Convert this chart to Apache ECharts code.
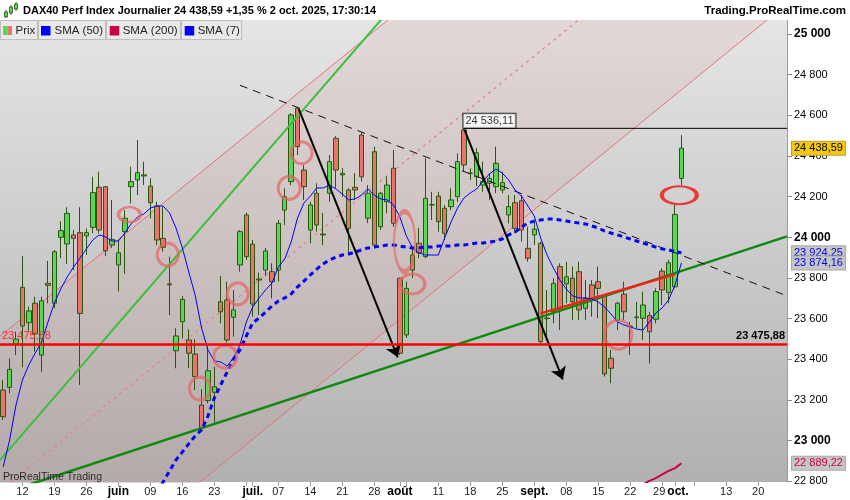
<!DOCTYPE html>
<html><head><meta charset="utf-8">
<script src="https://cdn.jsdelivr.net/npm/echarts@6/dist/echarts.min.js"></script>
<style>html,body{margin:0;padding:0;background:#fff}#c{width:850px;height:500px}</style>
</head><body><div id="c"></div>
<script>
// ---- categories (trading days) ----
const dates = ['07/05','08/05','09/05','12/05','13/05','14/05','15/05','16/05','19/05','20/05','21/05','22/05','23/05','26/05','27/05','28/05','29/05','30/05',
'02/06','03/06','04/06','05/06','06/06','09/06','10/06','11/06','12/06','13/06','16/06','17/06','18/06','19/06','20/06','23/06','24/06','25/06','26/06','27/06','30/06',
'01/07','02/07','03/07','04/07','07/07','08/07','09/07','10/07','11/07','14/07','15/07','16/07','17/07','18/07','21/07','22/07','23/07','24/07','25/07','28/07','29/07','30/07','31/07',
'01/08','04/08','05/08','06/08','07/08','08/08','11/08','12/08','13/08','14/08','15/08','18/08','19/08','20/08','21/08','22/08','25/08','26/08','27/08','28/08','29/08',
'01/09','02/09','03/09','04/09','05/09','08/09','09/09','10/09','11/09','12/09','15/09','16/09','17/09','18/09','19/09','22/09','23/09','24/09','25/09','26/09','29/09','30/09',
'01/10','02/10','03/10','06/10','07/10','08/10','09/10','10/10','13/10','14/10','15/10','16/10','17/10','20/10','21/10','22/10','23/10','24/10'];

// x tick labels
const xTickLabels = {'12/05':'12','19/05':'19','26/05':'26','02/06':'juin','09/06':'09','16/06':'16','23/06':'23',
'01/07':'juil.','07/07':'07','14/07':'14','21/07':'21','28/07':'28','01/08':'août','11/08':'11','18/08':'18','25/08':'25',
'01/09':'sept.','08/09':'08','15/09':'15','22/09':'22','29/09':'29','01/10':'oct.','13/10':'13','20/10':'20'};
const xTickOnly = ['30/06','04/08','06/10'];
const yTicks = [22800,23000,23200,23400,23600,23800,24000,24200,24400,24600,24800,25000];

// ---- price data ----
const opens = [23249,23262,23475,23754,23580,23676,23421,23774,23676,24000,
23967,24012,24023,24007,24049,24246,24249,23962,23864,24028,
24249,24282,24302,24252,24154,23995,23771,23442,23585,23495,
23426,23175,23197,23238,23683,23692,23607,23864,24110,23967,
23795,23839,23831,23839,24134,24274,24635,24331,24036,24217,
24012,24217,24487,24307,24233,24246,24503,24094,24421,24052,
24175,24340,23799,23520,23913,23971,23905,24159,24203,24143,
24151,24200,24528,24315,24298,24257,24266,24249,24233,24110,
24170,24180,23946,24012,23971,23603,23634,23856,23771,23799,
23831,23651,23766,23782,23711,23405,23593,23721,23561,23605,
23602,23615,23597,23834,23728,23757,24290];
const closes = [23118,23351,23499,23564,23638,23525,23688,23764,23929,24033,
24118,23995,23626,24023,24220,24036,23934,23990,23924,24094,
24274,24318,24307,24170,23987,23951,23766,23515,23695,23430,
23315,23061,23344,23265,23634,23495,23643,24028,23905,23672,
23790,23933,23782,24069,24200,24602,24446,24249,24159,24061,
24016,24372,24331,24315,24044,24233,24298,24217,23962,24217,
24257,24069,23430,23749,23839,23924,24192,24161,24077,24020,
24184,24372,24356,24316,24416,24274,24290,24364,24269,24151,
24044,24036,23897,24040,23487,23600,23774,23643,23806,23683,
23643,23700,23700,23749,23328,23356,23676,23634,23564,23608,
23667,23536,23733,23741,23875,24113,24438.59];
const lows = [23102,23233,23421,23361,23536,23438,23339,23676,23651,23897,
23869,23839,23274,23913,24020,24020,23908,23948,23733,23820,
24167,24208,24257,24094,23962,23929,23618,23356,23503,23356,
23249,23052,23184,23077,23577,23482,23511,23831,23889,23610,
23618,23810,23700,23782,24061,24257,24405,24184,23971,24028,
23962,24175,24243,24200,23921,24184,24274,24070,23946,24036,
24118,24052,23421,23505,23800,23898,23897,24085,24028,23987,
24134,24175,24323,24282,24252,24224,24184,24217,24217,24069,
24021,23979,23880,23962,23479,23495,23577,23544,23676,23593,
23593,23593,23610,23602,23315,23282,23544,23593,23421,23553,
23495,23380,23577,23667,23676,23749,24257];
const highs = [23298,23405,23536,23908,23659,23708,23708,23884,23938,24080,
24148,24036,24148,24044,24298,24323,24252,24184,23987,24134,
24347,24479,24372,24290,24175,24151,23905,23553,23711,23548,
23499,23253,23462,23364,23810,23782,23741,24036,24121,23987,
23826,23948,23872,24085,24241,24611,24639,24356,24175,24266,
24120,24405,24498,24341,24241,24316,24515,24257,24446,24224,
24298,24430,23800,23782,23948,24046,24389,24224,24224,24159,
24241,24413,24536.11,24340,24439,24372,24316,24446,24323,24208,
24208,24208,24052,24077,23979,23741,23799,23872,23880,23856,
23880,23790,23790,23856,23716,23446,23683,23782,23585,23683,
23733,23634,23749,23848,23889,24159,24503];

// ---- moving averages ----
const sma7 = [22871,23003,23175,23298,23372,23431,23485,23584,23677,23746,
23805,23854,23898,23943,23987,24012,24002,23982,23982,24021,
24066,24100,24115,24144,24154,24154,24120,24046,23948,23830,
23716,23554,23446,23392,23387,23367,23407,23470,23584,23657,
23702,23741,23775,23854,23893,23977,24095,24169,24203,24243,
24243,24257,24238,24213,24184,24189,24208,24238,24208,24189,
24184,24159,24100,24007,23948,23923,23913,23913,23913,23997,
24075,24144,24193,24218,24238,24277,24312,24336,24316,24282,
24233,24203,24154,24105,23997,23913,23849,23790,23746,23712,
23702,23702,23697,23682,23657,23623,23584,23569,23559,23549,
23544,23584,23628,23653,23692,23766,23874.16];
const sma50 = Array(24).fill(null).concat([22748,22797,22851,22905,22944,22984,
23023,23053,23121,23210,23274,23338,23402,23446,23515,23579,
23603,23633,23662,23687,23702,23721,23756,23785,23815,23844,
23869,23889,23903,23913,23918,23928,23938,23948,23952,23957,
23962,23962,23957,23952,23948,23948,23952,23952,23957,23957,
23957,23962,23962,23967,23972,23972,23977,23982,23992,24012,
24026,24051,24070,24080,24085,24090,24090,24085,24080,24075,
24070,24066,24056,24046,24031,24021,24012,24002,23992,23982,
23972,23962,23952,23943,23938,23930,23924.25]);
const sma200 = Array(100).fill(null).concat([22785,22802,22816,22834,22851,22865,22889.22]);

// ---- drawn levels / annotations (index, value) ----
const supportLevel = 23475.88;
const highLevel = [72, 24536.11];
const channelUpper = [[-0.5, 23514], [122.5, 26669]];
const channelLower = [[-0.5, 21994], [122.5, 25149]];
const channelMid = [[-0.5, 22750], [122.5, 25905]];
const steepTrend = [[-0.5, 22905], [65, 25286]];
const supportTrend = [[-0.5, 22737], [122.5, 24005]];
const redTrend = [[84, 23626], [105, 23818]];
const downTrend = [[37, 24748], [122.5, 23712]];
const arrows = [[46.2, 24630, 61.66, 23410], [72.1, 24530, 87.45, 23301]];
const ellipseCenters = [[19.73,24112],[25.72,23915],[30.75,23256],[34.7,23413],[36.66,23722],[44.69,24243],[46.64,24416],[62.73,23979],[63.95,23771],[96.14,23521]];
const ellipseSizes = [[22,15],[21,23],[21,23],[23,23],[21,22],[22,23],[21,22],[21,60],[25,20],[27,29]];
const hotEllipse = [[105.67, 24207]];

// ---- helpers ----
function fmtInt(v){ return String(Math.round(v)).replace(/\B(?=(\d{3})+(?!\d))/g,' '); }
function fmtDec(v){ const p = v.toFixed(2).split('.'); return p[0].replace(/\B(?=(\d{3})+(?!\d))/g,' ') + ',' + p[1]; }
const FONT = '"Liberation Sans", Arial, sans-serif';
const last = a => a[a.length-1];
const xMax = dates.length - 0.5;
const GRID_TOP = 20, GRID_BOTTOM_PX = 482;
const bgStops = [{offset:0,color:'#e5e5e5'},{offset:1,color:'#b1b1b1'}];

const candleData = opens.map((o,i)=>[o, closes[i], lows[i], highs[i]]);

const chart = echarts.init(document.getElementById('c'), null, {renderer:'canvas'});

function tagLabel(text, bg, color, border){
  return {show:true, position:'end', distance:5, formatter:text, backgroundColor:bg, color:color,
    borderColor:border, borderWidth:1, padding:[1,2,0,2], fontSize:11, lineHeight:12, fontFamily:FONT};
}
const hiddenLine = {color:'rgba(0,0,0,0)', width:1, type:'solid'};

const option = {
  animation:false,
  backgroundColor:'#ffffff',
  textStyle:{fontFamily:FONT},
  grid:{left:0, right:63, top:GRID_TOP, bottom:500-GRID_BOTTOM_PX, show:true, borderWidth:0,
    backgroundColor:new echarts.graphic.LinearGradient(0,0,0,1,bgStops)},
  xAxis:[{
    type:'category', data:dates, boundaryGap:true,
    axisLine:{show:false},
    axisTick:{show:true, alignWithLabel:true, length:4, lineStyle:{color:'#9a9a9a'},
      interval:(i,v)=> (v in xTickLabels) || xTickOnly.indexOf(v) >= 0},
    axisLabel:{interval:(i,v)=> v in xTickLabels, margin:4, fontSize:11, color:'#222', fontFamily:FONT,
      formatter:v=>{
        const t = xTickLabels[v] || '';
        if (v === '29/09') return '{l|'+t+'}';
        if (v === '01/10') return '{mr|'+t+'}';
        return /\d/.test(t) ? t : '{m|'+t+'}';
      },
      rich:{m:{fontWeight:'bold', fontSize:12, color:'#000', fontFamily:FONT},
            mr:{fontWeight:'bold', fontSize:12, color:'#000', fontFamily:FONT, padding:[0,0,0,6]},
            l:{fontSize:11, color:'#222', fontFamily:FONT, padding:[0,6,0,0]}}},
    splitLine:{show:false}
  },{
    type:'value', min:-0.5, max:xMax, show:false
  }],
  yAxis:{type:'value', position:'right', min:22796.7, max:25068.9, scale:true,
    axisLine:{show:true, onZero:false, lineStyle:{color:'#9c9c9c'}},
    splitLine:{show:false},
    axisTick:{show:true, length:5, lineStyle:{color:'#8a8a8a'}, customValues:yTicks},
    axisLabel:{customValues:yTicks, margin:7, fontSize:11, color:'#000', fontFamily:FONT,
      formatter:v=> (Math.round(v) % 1000 === 0) ? '{b|'+fmtInt(v)+'}' : fmtInt(v),
      rich:{b:{fontWeight:'bold', fontSize:12, color:'#000', fontFamily:FONT}}}
  },
  series:[
    // regression channel: pink area under the upper border, then gray cover under the lower border
    {type:'line', xAxisIndex:1, data:channelUpper, symbol:'none', silent:true, z:1,
      lineStyle:{color:'#e27474', width:1}, areaStyle:{origin:'start', color:'rgba(214,110,110,0.15)'}},
    {type:'line', xAxisIndex:1, data:channelLower, symbol:'none', silent:true, z:2,
      lineStyle:{color:'#e27474', width:1},
      areaStyle:{origin:'start', opacity:1, color:new echarts.graphic.LinearGradient(0,GRID_TOP,0,GRID_BOTTOM_PX,bgStops,true)}},
    {type:'line', xAxisIndex:1, data:channelMid, symbol:'none', silent:true, z:3,
      lineStyle:{color:'#e08686', width:1.3, type:[3,4]}},
    // candles
    {type:'candlestick', name:'Prix', data:candleData, barWidth:5, z:4, silent:true,
      itemStyle:{color:'#58d658', color0:'#e9746c', borderColor:'#2d5511', borderColor0:'#2d5511', borderWidth:1},
      markLine:{symbol:'none', silent:true, z:8, animation:false,
        data:[
          {yAxis:last(closes), lineStyle:hiddenLine, label:tagLabel(fmtDec(last(closes)), '#f8c80a', '#000', '#b8a040')},
          {yAxis:supportLevel, lineStyle:{color:'#ff0000', width:2.5, type:'solid'},
            label:{show:true, position:'insideEndTop', distance:2, formatter:fmtDec(supportLevel), color:'#000', fontWeight:'bold', fontSize:11, fontFamily:FONT}},
          {yAxis:supportLevel, lineStyle:hiddenLine,
            label:{show:true, position:'insideStartTop', distance:2, formatter:fmtDec(supportLevel), color:'#ff2a2a', fontSize:11, fontFamily:FONT}}
        ]}},
    // trend lines
    {type:'line', xAxisIndex:1, data:steepTrend, symbol:'none', silent:true, z:5, lineStyle:{color:'#3cbf3c', width:2}},
    {type:'line', xAxisIndex:1, data:supportTrend, symbol:'none', silent:true, z:5, lineStyle:{color:'#0e8a0e', width:2.5}},
    {type:'line', xAxisIndex:1, data:redTrend, symbol:'none', silent:true, z:5, lineStyle:{color:'#ff1a1a', width:2.5}},
    {type:'line', xAxisIndex:1, data:downTrend, symbol:'none', silent:true, z:5, lineStyle:{color:'#111', width:1, type:[8,6]}},
    {type:'line', xAxisIndex:1, data:[highLevel, [xMax, highLevel[1]]], symbol:'none', silent:true, z:5, lineStyle:{color:'#000', width:1}},
    {type:'scatter', xAxisIndex:1, data:[highLevel], symbolSize:1, silent:true, z:9,
      itemStyle:{color:'rgba(0,0,0,0)'},
      label:{show:true, position:[0,0], align:'left', verticalAlign:'bottom', formatter:fmtDec(highLevel[1]),
        backgroundColor:'#fff', borderColor:'#000', borderWidth:1, padding:[2,2,1,2], color:'#000', fontSize:11, fontFamily:FONT}},
    // moving averages
    {type:'line', name:'SMA (200)', data:sma200, symbol:'none', silent:true, z:6, lineStyle:{color:'#cc0044', width:2},
      markLine:{symbol:'none', silent:true, data:[{yAxis:last(sma200), lineStyle:hiddenLine, label:tagLabel(fmtDec(last(sma200)), '#c6c6c6', '#cc0044', '#a8a8a8')}]}},
    {type:'line', name:'SMA (50)', data:sma50, symbol:'none', silent:true, z:6, lineStyle:{color:'#0000ff', width:3, type:[5,4]},
      markLine:{symbol:'none', silent:true, data:[{yAxis:last(sma50), lineStyle:hiddenLine, label:tagLabel(fmtDec(last(sma50)), '#c6c6c6', '#0000ee', '#a8a8a8')}]}},
    {type:'line', name:'SMA (7)', data:sma7, symbol:'none', silent:true, z:6, lineStyle:{color:'#0000ff', width:1},
      markLine:{symbol:'none', silent:true, data:[{yAxis:last(sma7), lineStyle:hiddenLine, label:tagLabel(fmtDec(last(sma7)), '#c6c6c6', '#0000ee', '#a8a8a8')}]}},
    // arrows
    {type:'lines', coordinateSystem:'cartesian2d', xAxisIndex:1, yAxisIndex:0, silent:true, z:7,
      symbol:['none','arrow'], symbolSize:12, lineStyle:{color:'#000', width:2, opacity:1, curveness:0},
      data:arrows.map(a=>({coords:[[a[0],a[1]],[a[2],a[3]]]}))},
    // annotation ellipses
    {type:'scatter', xAxisIndex:1, silent:true, z:7, symbol:'circle',
      data:ellipseCenters.map((c,i)=>({value:c, symbolSize:ellipseSizes[i]})),
      itemStyle:{color:'rgba(0,0,0,0)', borderColor:'rgba(228,96,96,0.85)', borderWidth:3}},
    {type:'scatter', xAxisIndex:1, silent:true, z:7, symbol:'circle',
      data:hotEllipse.map(c=>({value:c, symbolSize:[35,18]})),
      itemStyle:{color:'rgba(0,0,0,0)', borderColor:'#f01010', borderWidth:3}}
  ],
  graphic:[
    {type:'rect', z:100, shape:{x:0,y:0,width:850,height:20}, style:{fill:'#ffffff'}},
    // title icon
    {type:'line', z:101, shape:{x1:6,y1:10,x2:6,y2:18}, style:{stroke:'#2d5511', lineWidth:1}},
    {type:'rect', z:102, shape:{x:4.5,y:12,width:3,height:5}, style:{fill:'#58d658', stroke:'#2d5511', lineWidth:0.8}},
    {type:'line', z:101, shape:{x1:11,y1:5,x2:11,y2:15}, style:{stroke:'#2d5511', lineWidth:1}},
    {type:'rect', z:102, shape:{x:9.5,y:7,width:3,height:6}, style:{fill:'#58d658', stroke:'#2d5511', lineWidth:0.8}},
    {type:'line', z:101, shape:{x1:16,y1:2,x2:16,y2:11}, style:{stroke:'#2d5511', lineWidth:1}},
    {type:'rect', z:102, shape:{x:14.5,y:4,width:3,height:5}, style:{fill:'#58d658', stroke:'#2d5511', lineWidth:0.8}},
    {type:'text', z:101, x:23, y:11, style:{text:'DAX40 Perf Index Journalier 24 438,59 +1,35 % 2 oct. 2025, 17:30:14',
      font:'bold 11px '+FONT, fill:'#000', textAlign:'left', textVerticalAlign:'middle'}},
    {type:'text', z:101, x:846, y:11, style:{text:'Trading.ProRealTime.com', font:'bold 11.5px '+FONT, fill:'#000', textAlign:'right', textVerticalAlign:'middle'}},
    // legend boxes
    {type:'rect', z:100, shape:{x:0.5,y:20.5,width:37,height:19}, style:{fill:'#e9e9e9', stroke:'#bdbdbd', lineWidth:1}},
    {type:'rect', z:101, shape:{x:3,y:26,width:4.5,height:9}, style:{fill:'#58d658'}},
    {type:'rect', z:101, shape:{x:7.5,y:26,width:4.5,height:9}, style:{fill:'#e9746c'}},
    {type:'text', z:101, x:15.5, y:31, style:{text:'Prix', font:'11.5px '+FONT, fill:'#222', textAlign:'left', textVerticalAlign:'middle'}},
    {type:'rect', z:100, shape:{x:38.5,y:20.5,width:67,height:19}, style:{fill:'#e9e9e9', stroke:'#bdbdbd', lineWidth:1}},
    {type:'rect', z:101, shape:{x:41,y:26,width:9.5,height:9.5}, style:{fill:'#0000ff'}},
    {type:'text', z:101, x:54.5, y:31, style:{text:'SMA (50)', font:'11.5px '+FONT, fill:'#222', textAlign:'left', textVerticalAlign:'middle'}},
    {type:'rect', z:100, shape:{x:106.5,y:20.5,width:74,height:19}, style:{fill:'#e9e9e9', stroke:'#bdbdbd', lineWidth:1}},
    {type:'rect', z:101, shape:{x:109.7,y:26,width:9.5,height:9.5}, style:{fill:'#cc0044'}},
    {type:'text', z:101, x:122.7, y:31, style:{text:'SMA (200)', font:'11.5px '+FONT, fill:'#222', textAlign:'left', textVerticalAlign:'middle'}},
    {type:'rect', z:100, shape:{x:181.5,y:20.5,width:60,height:19}, style:{fill:'#e9e9e9', stroke:'#bdbdbd', lineWidth:1}},
    {type:'rect', z:101, shape:{x:184.7,y:26,width:9.5,height:9.5}, style:{fill:'#0000ff'}},
    {type:'text', z:101, x:197.7, y:31, style:{text:'SMA (7)', font:'11.5px '+FONT, fill:'#222', textAlign:'left', textVerticalAlign:'middle'}},
    // watermark
    {type:'text', z:101, x:3, y:477, style:{text:'ProRealTime Trading', font:'10.5px '+FONT, fill:'#2a2a2a', textAlign:'left', textVerticalAlign:'middle'}}
  ]
};
chart.setOption(option);
</script>
</body></html>
